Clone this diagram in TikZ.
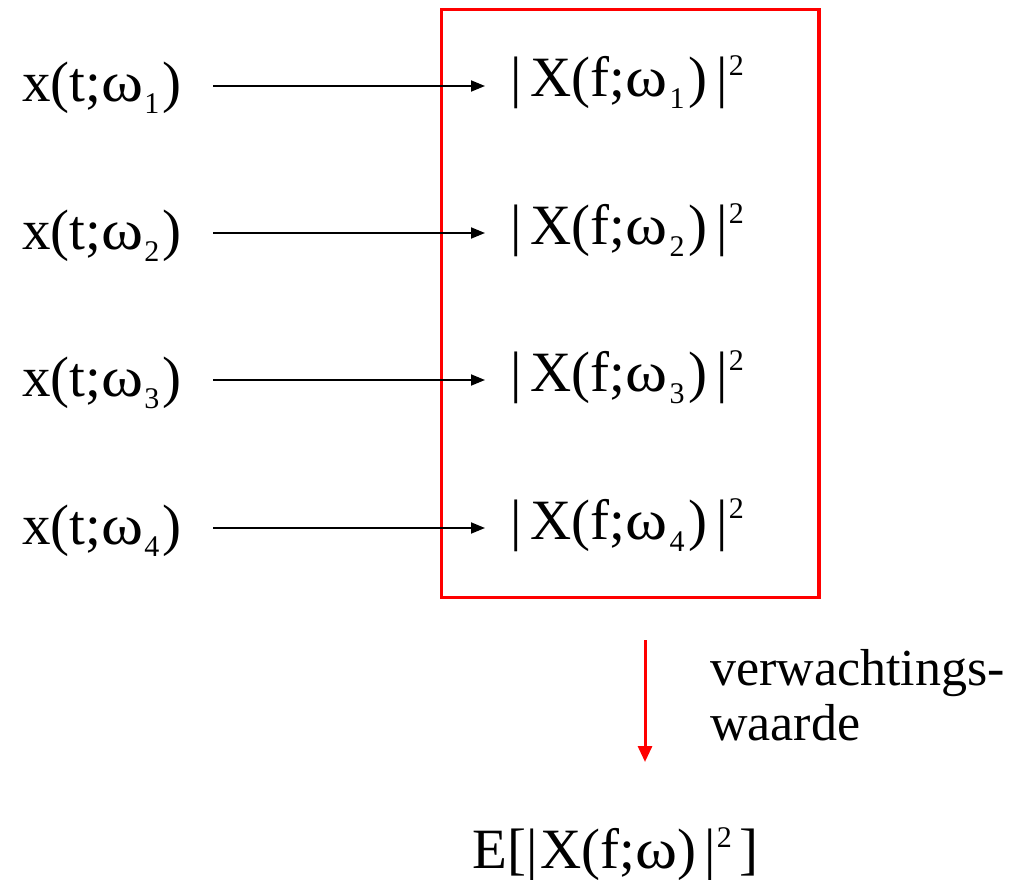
\documentclass[tikz,border=0pt]{standalone}
\usepackage{fontspec}
\setmainfont{Liberation Serif}
\usetikzlibrary{arrows.meta}
\newcommand{\sbs}[1]{\raisebox{-12pt}{\fontsize{30}{30}\selectfont #1}}
\newcommand{\sps}[1]{\raisebox{21pt}{\fontsize{30}{30}\selectfont #1}}
\newcommand{\om}{\scalebox{1.12}[1]{ω}}
\tikzset{
  lab/.style={inner sep=0pt, font=\fontsize{57}{57}\selectfont},
  txt/.style={inner sep=0pt, font=\fontsize{52}{52}\selectfont},
  arr/.style={line width=1.8pt, -{Triangle[length=14pt,width=11pt]}},
  redarr/.style={draw=red, line width=3pt, -{Triangle[length=16pt,width=14pt]}, red},
  box/.style={draw=red, line width=3.5pt}
}
\begin{document}
\begin{tikzpicture}[x=1pt,y=-1pt]
\useasboundingbox (0,0) rectangle (1014,880);
\draw[box] (441.5,9.5) rectangle (819,597.5);
\foreach \i/\y in {1/86,2/233,3/380,4/528}{
  \node[lab, anchor=base west] (l\i) at (22,\y+16) {x(t;\om\kern1pt\sbs{\i}\kern3pt)};
  \node[lab, anchor=base west] (r\i) at (510,\y+11) {|\kern9pt X(f;\om\kern2pt\sbs{\i}\kern4pt)\kern9pt|\kern1pt\sps{2}};
  \coordinate (s\i) at (213,\y);
  \coordinate (t\i) at (485,\y);
  \draw[arr] (s\i) -- (t\i);
}
\node[txt, anchor=base west] (vw) at (710,685) {verwachtings-};
\node[txt, anchor=base west] (wa) at (710,740) {waarde};
\node[lab, anchor=base west] (ex) at (472,868) {E[|\kern3pt X(f;\om)\kern8pt|\kern1pt\sps{2}\kern8pt]};
\coordinate (ra) at (645,640);
\coordinate (rb) at (645,762);
\draw[redarr] (ra) -- (rb);
\end{tikzpicture}
\end{document}
